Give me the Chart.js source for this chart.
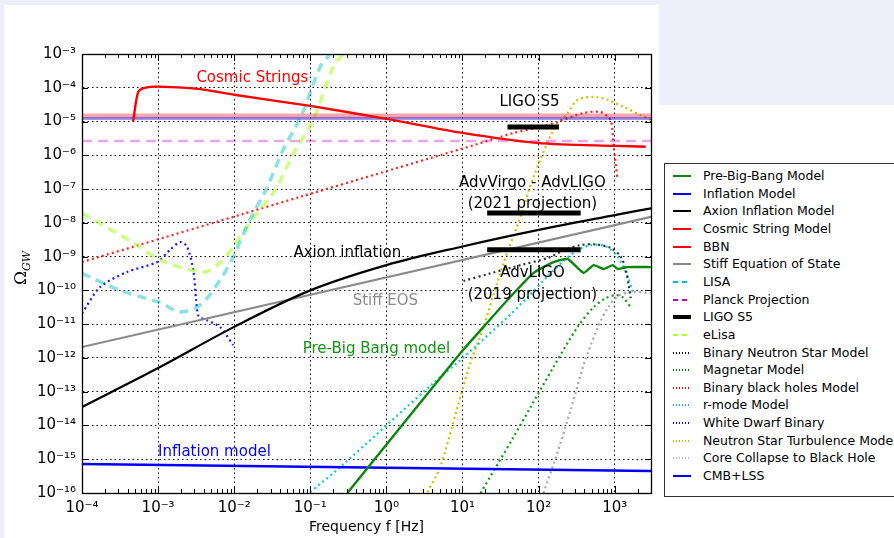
<!DOCTYPE html>
<html>
<head>
<meta charset="utf-8">
<script src="https://cdn.jsdelivr.net/npm/chart.js@4.4.1/dist/chart.umd.min.js"></script>
<style>
  html,body{margin:0;padding:0;}
  body{width:894px;height:538px;background:#efeffb;position:relative;overflow:hidden;font-family:'DejaVu Sans',sans-serif;}
  #panel{position:absolute;left:4px;top:5px;width:655px;height:533px;background:#fff;}
  #side{position:absolute;left:659px;top:105px;width:235px;height:433px;background:#fff;}
  #chart{position:absolute;left:0;top:0;}
  #ylab{position:absolute;left:2px;top:258px;width:36px;height:20px;transform:rotate(-90deg);text-align:center;
        font-family:'DejaVu Serif',serif;font-size:17px;line-height:20px;color:#000;}
  #ylab sub{font-style:italic;font-size:11px;}
  #legend{position:absolute;left:664px;top:163px;width:240px;height:332px;border:1px solid #333;background:#fff;}
  .row{position:absolute;left:0;height:18px;width:240px;font-size:12.5px;line-height:18px;color:#000;white-space:nowrap;}
  .row span.s{position:absolute;left:8px;top:8px;width:18px;height:2px;}
  .row span.t{position:absolute;left:38px;top:0;}
</style>
</head>
<body>
<div id="panel"></div>
<div id="side"></div>
<canvas id="chart" width="660" height="538"></canvas>
<div id="ylab">Ω<sub>GW</sub></div>
<div id="legend"></div>
<script>
// =========================
// DATA (frequency in Hz, Omega_GW)
// =========================
const xTicks = [1e-4, 1e-3, 1e-2, 1e-1, 1, 10, 100, 1000];
const yTicks = [1e-16, 1e-15, 1e-14, 1e-13, 1e-12, 1e-11, 1e-10, 1e-9, 1e-8, 1e-7, 1e-6, 1e-5, 1e-4, 1e-3];

const pbbF = [0.307, 9.4, 18.9, 39, 86, 157, 241, 391, 530, 716, 942, 1100, 1480, 2980];
const pbbO = [1e-16, 1.4e-12, 8.3e-12, 5.2e-11, 3.3e-10, 6.9e-10, 8.5e-10, 3.3e-10, 5.6e-10, 4.3e-10, 5.6e-10, 4.3e-10, 4.9e-10, 4.9e-10];

const inflF = [1e-4, 3000];
const inflO = [7.2e-16, 4.5e-16];

const axionF = [1e-4, 1e-3, 1e-2, 0.1, 1, 10, 100, 1000, 3000];
const axionO = [3.5e-14, 5.0e-13, 8.3e-12, 1.0e-10, 5.6e-10, 2.0e-9, 6.2e-9, 1.7e-8, 2.7e-8];

const cosF = [4.7e-4, 5.5e-4, 7.1e-4, 1e-3, 3.6e-3, 1e-2, 0.1, 1, 10, 100, 1000, 2560];
const cosO = [1.0e-5, 7.7e-5, 1.03e-4, 1.08e-4, 9.1e-5, 6.2e-5, 2.9e-5, 1.2e-5, 4.6e-6, 2.3e-6, 1.9e-6, 1.8e-6];

const flatF = [1e-4, 3000];
const bbnO = [1.46e-5, 1.46e-5];
const cmbO = [1.23e-5, 1.23e-5];
const planckO = [2.65e-6, 2.65e-6];

const stiffF = [1e-4, 3000];
const stiffO = [2.1e-12, 1.5e-8];

const lisaF = [1e-4, 3.2e-4, 1.06e-3, 1.95e-3, 3.6e-3, 6.5e-3, 9.7e-3, 1.6e-2, 2.6e-2, 4.4e-2, 7.9e-2, 0.135, 0.183];
const lisaO = [3.2e-10, 1.0e-10, 4.3e-11, 2.3e-11, 3.7e-11, 2.0e-10, 9.8e-10, 1.2e-8, 9.3e-8, 1.45e-6, 1.8e-5, 4.2e-4, 1e-3];

const elisaF = [1e-4, 5.3e-4, 1.06e-3, 3.9e-3, 6.5e-3, 9.7e-3, 1.6e-2, 3.5e-2, 5.8e-2, 0.109, 0.2, 0.27];
const elisaO = [1.95e-8, 2.2e-9, 7.9e-10, 3.5e-10, 6.5e-10, 1.95e-9, 1e-8, 1e-7, 1e-6, 1.1e-5, 4.2e-4, 1e-3];

const ligoS5F = [39, 185];
const ligoS5O = [6.9e-6, 6.9e-6];
const adv2021F = [21.1, 357];
const adv2021O = [1.95e-8, 1.95e-8];
const adv2019F = [21.1, 357];
const adv2019O = [1.6e-9, 1.6e-9];

const bnsF = [10.3, 23.3, 58, 131, 226, 357, 562, 885, 1200, 1400, 1530, 1620];
const bnsO = [1.9e-10, 3.2e-10, 5.6e-10, 9.1e-10, 1.6e-9, 2.2e-9, 2.3e-9, 1.8e-9, 1.0e-9, 4.0e-10, 1.4e-10, 5.9e-11];

const magF = [17.3, 47, 78.5, 157, 326, 530, 762, 1030, 1270, 1620];
const magO = [1e-16, 4.6e-15, 3.5e-14, 5.4e-13, 8.3e-12, 3.2e-11, 5.9e-11, 7.2e-11, 6.3e-11, 3.2e-11];

const bbhF = [1e-4, 7.4e-2, 3.8, 14, 47, 106, 178, 391, 655, 885, 970, 1090];
const bbhO = [6.9e-10, 5.9e-8, 8.3e-7, 2.0e-6, 4.6e-6, 6.9e-6, 9.8e-6, 1.8e-5, 1.9e-5, 1.1e-5, 1.8e-6, 1.9e-7];

const rmodeF = [0.1, 0.248, 4.15, 9.4, 39, 72, 144, 289, 483, 762, 1100, 1480, 1730];
const rmodeO = [1.07e-16, 5.9e-16, 1.8e-13, 8.7e-13, 1.6e-11, 6.3e-11, 3.2e-10, 1.3e-9, 2.2e-9, 2.0e-9, 9.8e-10, 2.5e-10, 8.9e-11];

const wdbF = [1e-4, 1.73e-4, 3.9e-4, 9.7e-4, 1.44e-3, 1.95e-3, 2.4e-3, 2.9e-3, 3.16e-3, 3.4e-3, 4.4e-3, 6.5e-3, 9.7e-3];
const wdbO = [2.1e-11, 1.26e-10, 3.5e-10, 6.9e-10, 1.6e-9, 2.7e-9, 2.0e-9, 4.0e-10, 5.2e-11, 1.75e-11, 1.3e-11, 8.3e-12, 2.4e-12];

const nstF = [3.46, 5.1, 8.6, 12.7, 18.9, 28.9, 39, 53, 86, 157, 241, 326, 530, 809, 1310, 2200, 2980];
const nstO = [1.07e-16, 5.9e-16, 3.5e-14, 7.1e-13, 8.3e-12, 1.8e-10, 1.4e-9, 8.7e-9, 2.3e-7, 5.6e-6, 1.8e-5, 4.4e-5, 5.4e-5, 4.4e-5, 2.7e-5, 1.55e-5, 1.1e-5];

const ccF = [116, 173, 264, 391, 597, 809, 1100, 1620, 2980];
const ccO = [1e-16, 1.35e-15, 2.9e-14, 6.2e-13, 7.8e-12, 3.0e-11, 6.8e-11, 8.9e-11, 8.3e-11];

// text labels inside the plot, anchored in data coordinates
const notes = [
  {text:'Cosmic Strings', f:0.0173, o:1.95e-4, color:'#ff0000'},
  {text:'LIGO S5', f:76, o:3.8e-5, color:'#000'},
  {text:'AdvVirgo - AdvLIGO', f:83, o:1.5e-7, color:'#000'},
  {text:'(2021 projection)', f:83, o:3.6e-8, color:'#000'},
  {text:'Axion inflation', f:0.307, o:1.3e-9, color:'#000'},
  {text:'AdvLIGO', f:83, o:3.3e-10, color:'#000'},
  {text:'(2019 projection)', f:83, o:7.2e-11, color:'#000'},
  {text:'Stiff EOS', f:0.97, o:4.9e-11, color:'#8c8c8c'},
  {text:'Pre-Big Bang model', f:0.74, o:1.84e-12, color:'#139413'},
  {text:'Inflation model', f:5.5e-3, o:1.6e-15, color:'#0000ff'}
];

// =========================
// HELPERS
// =========================
const SUP = {'-':'⁻','0':'⁰','1':'¹','2':'²','3':'³','4':'⁴','5':'⁵','6':'⁶','7':'⁷','8':'⁸','9':'⁹'};
function potencia(v){
  const e = String(Math.round(Math.log10(v)));
  return '10' + e.split('').map(c => SUP[c]).join('');
}

const DOT = [2, 3.2];
function serie(label, fs, os, style){
  return Object.assign({
    label,
    data: fs.map((f, i) => ({x: f, y: os[i]})),
    pointRadius: 0,
    borderWidth: 2.2,
    tension: 0,
    fill: false
  }, style);
}

const datasets = [
  serie('AdvLIGO 2019', adv2019F, adv2019O, {borderColor:'#000', borderWidth:5, legend:false}),
  serie('AdvVirgo 2021', adv2021F, adv2021O, {borderColor:'#000', borderWidth:5, legend:false}),
  serie('LIGO S5', ligoS5F, ligoS5O, {borderColor:'#000', borderWidth:5, legendWidth:4}),
  serie('Pre-Big-Bang Model', pbbF, pbbO, {borderColor:'#0a870a', borderWidth:2.4, tension:0.15}),
  serie('Inflation Model', inflF, inflO, {borderColor:'#0000ff', borderWidth:2.6}),
  serie('Axion Inflation Model', axionF, axionO, {borderColor:'#000', tension:0.35}),
  serie('Cosmic String Model', cosF, cosO, {borderColor:'#ff0000', borderWidth:2.4, tension:0.25}),
  serie('CMB+LSS', flatF, cmbO, {borderColor:'rgba(0,0,255,0.4)', borderWidth:3, legendColor:'#0000ff'}),
  serie('BBN', flatF, bbnO, {borderColor:'rgba(255,0,0,0.35)', borderWidth:5, legendColor:'#ff0000'}),
  serie('Stiff Equation of State', stiffF, stiffO, {borderColor:'#8a8a8a'}),
  serie('LISA', lisaF, lisaO, {borderColor:'rgba(0,191,191,0.45)', borderWidth:3.5, borderDash:[9,6], legendColor:'#00bfbf', dash:true, tension:0.3}),
  serie('Planck Projection', flatF, planckO, {borderColor:'rgba(191,0,191,0.35)', borderWidth:2.5, borderDash:[10,6], legendColor:'#bf00bf', dash:true}),
  serie('eLisa', elisaF, elisaO, {borderColor:'rgba(173,255,47,0.6)', borderWidth:3.5, borderDash:[9,6], legendColor:'#adff2f', dash:true, tension:0.3}),
  serie('Binary Neutron Star Model', bnsF, bnsO, {borderColor:'#333', borderDash:DOT, dot:true, legendColor:'#000', tension:0.3}),
  serie('Magnetar Model', magF, magO, {borderColor:'#119911', borderDash:DOT, dot:true, legendColor:'#008000', tension:0.3}),
  serie('Binary black holes Model', bbhF, bbhO, {borderColor:'#ff2020', borderDash:DOT, dot:true, legendColor:'#ff0000', tension:0.25}),
  serie('r-mode Model', rmodeF, rmodeO, {borderColor:'#11caca', borderDash:DOT, dot:true, legendColor:'#00bfbf', tension:0.3}),
  serie('White Dwarf Binary', wdbF, wdbO, {borderColor:'#1a1aff', borderDash:DOT, dot:true, legendColor:'#0000ff', tension:0.25}),
  serie('Neutron Star Turbulence Model', nstF, nstO, {borderColor:'#c4c400', borderDash:DOT, dot:true, legendColor:'#bfbf00', tension:0.3}),
  serie('Core Collapse to Black Hole', ccF, ccO, {borderColor:'#a8a8a8', borderDash:DOT, dot:true, legendColor:'#bfbfbf', tension:0.3})
];

const legendOrder = ['Pre-Big-Bang Model','Inflation Model','Axion Inflation Model','Cosmic String Model','BBN',
  'Stiff Equation of State','LISA','Planck Projection','LIGO S5','eLisa','Binary Neutron Star Model','Magnetar Model',
  'Binary black holes Model','r-mode Model','White Dwarf Binary','Neutron Star Turbulence Model',
  'Core Collapse to Black Hole','CMB+LSS'];

// =========================
// FRAME, MINOR TICKS, NOTES
// =========================
const marco = {
  id: 'marco',
  afterDatasetsDraw(chart){
    const {ctx, chartArea: a, scales: {x, y}} = chart;
    ctx.save();
    ctx.strokeStyle = '#000';
    ctx.lineWidth = 1;
    ctx.beginPath();
    for (let e = -4; e <= 3; e++){
      for (let m = 1; m <= 9; m++){
        const v = m * Math.pow(10, e);
        if (v < x.min || v > x.max) continue;
        const px = Math.round(x.getPixelForValue(v)) + 0.5;
        const len = m === 1 ? 7 : 4;
        ctx.moveTo(px, a.bottom); ctx.lineTo(px, a.bottom - len);
        ctx.moveTo(px, a.top); ctx.lineTo(px, a.top + len);
      }
    }
    yTicks.forEach(v => {
      const py = Math.round(y.getPixelForValue(v)) + 0.5;
      ctx.moveTo(a.left, py); ctx.lineTo(a.left + 6, py);
      ctx.moveTo(a.right, py); ctx.lineTo(a.right - 6, py);
    });
    ctx.stroke();
    ctx.lineWidth = 1.3;
    ctx.strokeRect(Math.round(a.left) + 0.5, Math.round(a.top) + 0.5, Math.round(a.right - a.left), Math.round(a.bottom - a.top));

    ctx.font = '15px "DejaVu Sans"';
    ctx.textAlign = 'center';
    ctx.textBaseline = 'middle';
    notes.forEach(n => {
      ctx.fillStyle = n.color;
      ctx.fillText(n.text, x.getPixelForValue(n.f), y.getPixelForValue(n.o));
    });
    ctx.restore();
  }
};

const chart = new Chart(document.getElementById('chart'), {
  type: 'line',
  data: {datasets},
  options: {
    responsive: false,
    animation: false,
    events: [],
    layout: {padding: {top: 54, right: 9, left: 0, bottom: 0}},
    plugins: {legend: {display: false}, tooltip: {enabled: false}},
    scales: {
      x: {
        type: 'logarithmic',
        min: 1e-4, max: 3000,
        afterBuildTicks: s => { s.ticks = xTicks.map(v => ({value: v})); },
        afterFit: s => { s.height = 45; },
        ticks: {autoSkip: false, maxRotation: 0, padding: 6, color: '#000',
                font: {family: 'DejaVu Sans', size: 15}, callback: v => potencia(v)},
        grid: {color: '#000', lineWidth: 1, drawTicks: false},
        border: {display: true, color: '#000', dash: [1.5, 3]},
        title: {display: true, text: 'Frequency f [Hz]', color: '#000',
                font: {family: 'DejaVu Sans', size: 14}, padding: {top: 0, bottom: 2}}
      },
      y: {
        type: 'logarithmic',
        min: 1e-16, max: 1e-3,
        afterBuildTicks: s => { s.ticks = yTicks.map(v => ({value: v})); },
        afterFit: s => { s.width = 82; },
        ticks: {autoSkip: false, padding: 6, color: '#000',
                font: {family: 'DejaVu Sans', size: 15}, callback: v => potencia(v)},
        grid: {color: '#000', lineWidth: 1, drawTicks: false},
        border: {display: true, color: '#000', dash: [1.5, 3]}
      }
    }
  },
  plugins: [marco]
});

// =========================
// LEGEND (HTML)
// =========================
const leg = document.getElementById('legend');
legendOrder.forEach((name, i) => {
  const ds = datasets.find(d => d.label === name);
  const c = ds.legendColor || ds.borderColor;
  const row = document.createElement('div');
  row.className = 'row';
  row.style.top = (3 + i * 17.65) + 'px';
  const s = document.createElement('span');
  s.className = 's';
  const w = ds.legendWidth || 2;
  s.style.height = w + 'px';
  s.style.top = (9 - w / 2) + 'px';
  if (ds.dash) s.style.background = `repeating-linear-gradient(90deg, ${c} 0 5px, transparent 5px 9px)`;
  else if (ds.dot) s.style.background = `repeating-linear-gradient(90deg, ${c} 0 1.5px, transparent 1.5px 3px)`;
  else s.style.background = c;
  const t = document.createElement('span');
  t.className = 't';
  t.textContent = name;
  row.appendChild(s); row.appendChild(t);
  leg.appendChild(row);
});
</script>
</body>
</html>
